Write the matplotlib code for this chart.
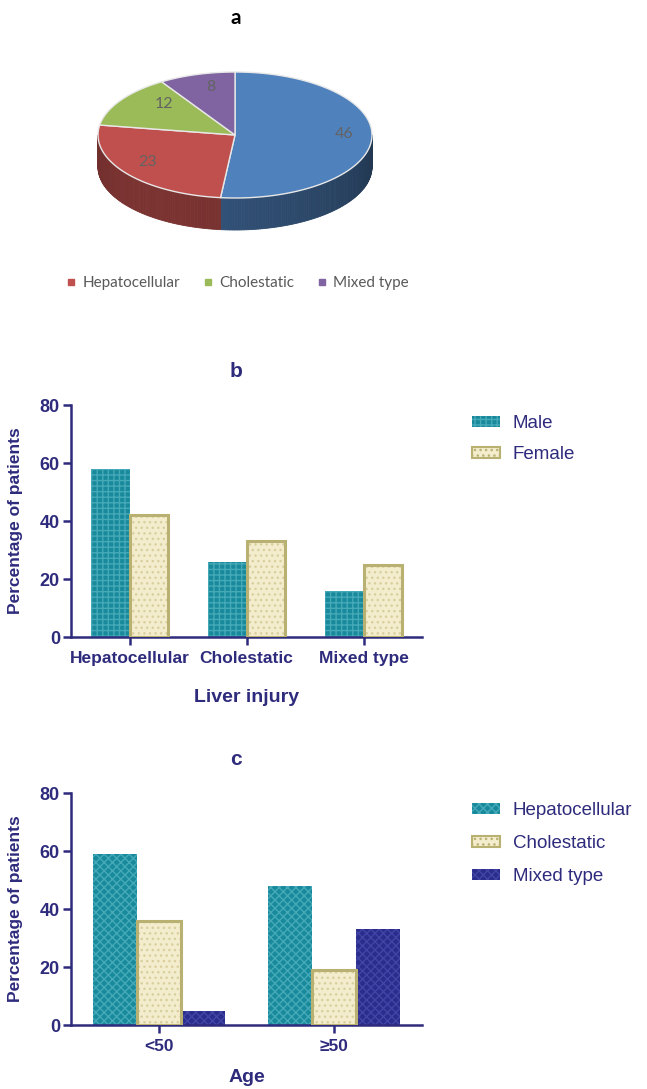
import numpy as np
import matplotlib
matplotlib.use('Agg')
import matplotlib.pyplot as plt
from matplotlib.patches import Polygon, Patch
from matplotlib.lines import Line2D
from matplotlib.colors import to_rgb

# data
pie_values = [46, 23, 12, 8]
pie_labels = ['', 'Hepatocellular', 'Cholestatic', 'Mixed type']
pie_colors = ['#4f81bd', '#c0504d', '#9bbb59', '#8064a2']

injury_types = ['Hepatocellular', 'Cholestatic', 'Mixed type']
male_pct = [58, 26, 16]
female_pct = [42, 33, 25]

age_groups = ['<50', '≥50']
hep_by_age = [59, 48]
chol_by_age = [36, 19]
mixed_by_age = [5, 33]

navy = '#2e2b7c'
teal, teal_h = '#188a9b', '#45a9b8'
beige, beige_e, beige_h = '#f4edcd', '#b9b172', '#d9cf9e'
dblue, dblue_h = '#2b2d8c', '#4244a6'

plt.rcParams['hatch.linewidth'] = 1.0

fig = plt.figure(figsize=(6.47, 10.89), dpi=100)

# ---------------- a: 3D-looking pie ----------------
ax_a = fig.add_axes([0, 1 - 310 / 1089, 1, 310 / 1089])
ax_a.set_xlim(0, 647)
ax_a.set_ylim(310, 0)
ax_a.axis('off')
ax_a.text(236, 18, 'a', ha='center', va='center', fontsize=15,
          fontweight='bold', family='Lato', color='black')

cx, cy, rx, ry, depth = 235, 135, 137, 63, 32


def ell(th, r=1.0):
    th = np.radians(th)
    return cx + rx * r * np.sin(th), cy - ry * r * np.cos(th)


total = sum(pie_values)
start = 0.0
for v, col in zip(pie_values, pie_colors):
    end = start + v / total * 360
    # side wall, only the front half shows
    a, b = max(start, 90), min(end, 270)
    if a < b:
        steps = np.linspace(a, b, int(b - a) + 2)
        base = np.array(to_rgb(col))
        for t0, t1 in zip(steps[:-1], steps[1:]):
            mid = (t0 + t1) / 2
            f = 0.5 + 0.14 * np.cos(np.radians(mid - 215))
            x0, y0 = ell(t0)
            x1, y1 = ell(t1)
            ax_a.add_patch(Polygon([(x0, y0), (x1, y1), (x1, y1 + depth), (x0, y0 + depth)],
                                   closed=True, fc=base * f, ec=base * f, lw=0.6))
    # top face
    ts = np.linspace(start, end, max(int(end - start), 2) + 1)
    pts = [(cx, cy)] + [ell(t) for t in ts]
    ax_a.add_patch(Polygon(pts, closed=True, fc=col, ec='#e8e8e8', lw=1.0, zorder=3))
    # label
    mid = (start + end) / 2
    if v / total > 0.2:
        lx, ly = ell(mid, 0.8)
        ly -= 4
    else:
        lx, ly = ell(mid, 0.62)
        ly -= 10
    ax_a.text(lx, ly, str(v), ha='center', va='center', fontsize=11.5,
              family='Lato', color='#636363', zorder=4)
    start = end

pie_handles = [Line2D([], [], marker='s', ls='', ms=4, color=c)
               for c in pie_colors[1:]]
ax_a.legend(pie_handles, pie_labels[1:], loc='center', ncol=3,
            bbox_to_anchor=(238, 283), bbox_transform=ax_a.transData,
            frameon=False, handlelength=0.6, handletextpad=0.45,
            columnspacing=1.5, labelcolor='#595959',
            prop={'family': 'Lato', 'size': 11})


# ---------------- bar chart helpers ----------------
def style_axes(ax, xticks, xlabels, xlabel, title):
    ax.set_ylim(0, 80)
    ax.set_yticks([0, 20, 40, 60, 80])
    ax.set_xticks(xticks)
    ax.set_xticklabels(xlabels)
    for s in ['top', 'right']:
        ax.spines[s].set_visible(False)
    for s in ['left', 'bottom']:
        ax.spines[s].set_color(navy)
        ax.spines[s].set_linewidth(1.8)
    ax.tick_params(axis='both', colors=navy, width=1.8, length=6)
    ax.tick_params(axis='x', pad=4, labelsize=12.5)
    ax.tick_params(axis='y', pad=2, labelsize=13)
    for lab in ax.get_xticklabels() + ax.get_yticklabels():
        lab.set_fontweight('bold')
        lab.set_family('Liberation Sans')
    ax.set_ylabel('Percentage of patients', fontsize=12.5, fontweight='bold',
                  color=navy, family='Liberation Sans')
    ax.yaxis.set_label_coords(-0.137, 0.5)
    ax.set_xlabel(xlabel, fontsize=14, fontweight='bold', color=navy,
                  family='Liberation Sans')
    ax.set_title(title, fontsize=15, fontweight='bold', color=navy,
                 family='Liberation Sans', pad=20)


def hatched_bar(ax, x, h, w, face, hcol, hatch, edge=None, elw=0):
    ax.bar(x, h, w, color=face, edgecolor=hcol, hatch=hatch, lw=0, zorder=2)
    if edge is not None:
        ax.bar(x, h, w, fill=False, edgecolor=edge, lw=elw, zorder=3)


# ---------------- b ----------------
ax_b = fig.add_axes([71 / 647, 1 - 637 / 1089, 351 / 647, 232 / 1089])
xb = np.arange(len(injury_types))
wb = 0.33
hatched_bar(ax_b, xb - wb / 2, male_pct, wb, teal, teal_h, '+++')
hatched_bar(ax_b, xb + wb / 2, female_pct, wb, beige, beige_h, '...',
            edge=beige_e, elw=2.2)
ax_b.set_xlim(-0.5, 2.5)
style_axes(ax_b, xb, injury_types, 'Liver injury', 'b')
ax_b.xaxis.set_label_coords(0.5, -0.225)
ax_b.title.set_position((0.47, 1))

hb = [Patch(fc=teal, ec=teal_h, hatch='+++', lw=0),
      Patch(fc=beige, ec=beige_e, hatch='...', lw=1.5)]
fig.legend(hb, ['Male', 'Female'], loc='upper left',
           bbox_to_anchor=(463 / 647, 1 - 406 / 1089), frameon=False,
           handlelength=1.45, handleheight=0.55, handletextpad=0.7,
           labelspacing=0.75, borderpad=0, labelcolor=navy,
           prop={'family': 'Liberation Sans', 'size': 13.5})

# ---------------- c ----------------
ax_c = fig.add_axes([71 / 647, 1 - 1025 / 1089, 351 / 647, 232 / 1089])
xc = np.arange(len(age_groups))
wc = 0.25
hatched_bar(ax_c, xc - wc, hep_by_age, wc, teal, teal_h, 'xxxx')
hatched_bar(ax_c, xc, chol_by_age, wc, beige, beige_h, '...',
            edge=beige_e, elw=2.2)
hatched_bar(ax_c, xc + wc, mixed_by_age, wc, dblue, dblue_h, 'xxxx')
ax_c.set_xlim(-0.5, 1.5)
style_axes(ax_c, xc, age_groups, 'Age', 'c')
ax_c.xaxis.set_label_coords(0.5, -0.19)
ax_c.title.set_position((0.47, 1))

hc = [Patch(fc=teal, ec=teal_h, hatch='xxxx', lw=0),
      Patch(fc=beige, ec=beige_e, hatch='...', lw=1.5),
      Patch(fc=dblue, ec=dblue_h, hatch='xxxx', lw=0)]
fig.legend(hc, ['Hepatocellular', 'Cholestatic', 'Mixed type'],
           loc='upper left', bbox_to_anchor=(463 / 647, 1 - 793 / 1089),
           frameon=False, handlelength=1.45, handleheight=0.55,
           handletextpad=0.7, labelspacing=0.85, borderpad=0,
           labelcolor=navy, prop={'family': 'Liberation Sans', 'size': 13.5})

fig.savefig('out.png', dpi=100)
